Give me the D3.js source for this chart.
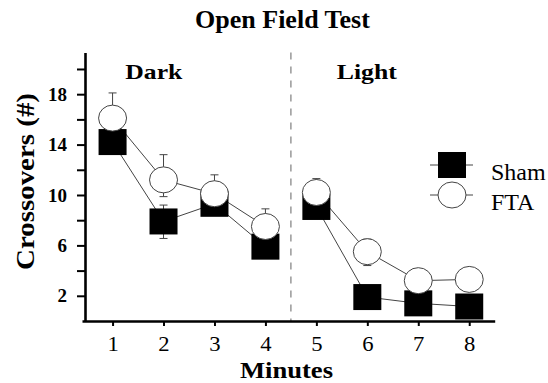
<!DOCTYPE html>
<html>
<head>
<meta charset="utf-8">
<script src="https://cdn.jsdelivr.net/npm/d3@7"></script>
<style>
  body { margin: 0; background: #fff; }
  text { font-family: "Liberation Serif", "Times New Roman", serif; fill: #000; }
  .axis path, .axis line { stroke: #000; }
</style>
</head>
<body>
<div id="chart"></div>
<script>
// values
const minutes = [1, 2, 3, 4, 5, 6, 7, 8];
const sham = [14.2, 7.9, 9.3, 5.9, 9.05, 1.9, 1.4, 1.15];
const shamErrUp = [0.8, 1.3, 0.6, 0.6, 0.6, 0.4, 0.3, 0.3];
const shamErrDown = [0.8, 1.35, 0.6, 0.6, 0.6, 0.4, 0.3, 0.3];
const fta = [16.1, 11.2, 10.1, 7.5, 10.2, 5.5, 3.2, 3.3];
const ftaErrUp = [2.0, 2.0, 1.5, 1.4, 1.1, 1.0, 0.4, 0.4];
const ftaErrDown = [2.0, 1.33, 1.5, 1.4, 1.1, 1.1, 0.4, 0.4];
const yTicks = [2, 4, 6, 8, 10, 12, 14, 16, 18, 20];
const yLabeled = [2, 6, 10, 14, 18];
const phases = [{name: 'Dark', at: 1.81, len: 57}, {name: 'Light', at: 5.99, len: 60}];
const phaseBoundary = 4.5;

const width = 548, height = 383;

const svg = d3.select('#chart')
  .append('svg')
  .attr('width', width)
  .attr('height', height);

const x = d3.scaleLinear().domain([0.4, 8.5]).range([82, 494.7]);
const y = d3.scaleLinear().domain([0, 21.3]).range([321, 52.6]);
const axisX = 85;

// title
svg.append('text')
  .attr('x', 282.5)
  .attr('y', 28)
  .attr('text-anchor', 'middle')
  .style('font-size', '26px')
  .style('font-weight', 'bold')
  .text('Open Field Test');

// dashed divider between dark and light phases
svg.append('line')
  .attr('x1', x(phaseBoundary)).attr('x2', x(phaseBoundary))
  .attr('y1', y(21.3)).attr('y2', y(0))
  .attr('stroke', '#888')
  .attr('stroke-width', 1.3)
  .attr('stroke-dasharray', '7,7');

// phase labels
svg.selectAll('.phase')
  .data(phases)
  .enter()
  .append('text')
  .attr('class', 'phase')
  .attr('x', d => x(d.at))
  .attr('y', 79)
  .attr('text-anchor', 'middle')
  .attr('textLength', d => d.len)
  .attr('lengthAdjust', 'spacingAndGlyphs')
  .style('font-size', '22px')
  .style('font-weight', 'bold')
  .text(d => d.name);

// y axis
const yAxis = svg.append('g')
  .attr('class', 'axis')
  .attr('transform', `translate(${axisX},0)`)
  .call(d3.axisLeft(y)
    .tickValues(yTicks)
    .tickSize(8)
    .tickSizeOuter(0)
    .tickPadding(10)
    .tickFormat(d => yLabeled.includes(d) ? d : ''));
yAxis.select('.domain').attr('stroke-width', 2.6);
yAxis.selectAll('.tick line').attr('stroke-width', 2);
yAxis.selectAll('.tick text')
  .style('font-size', '19px')
  .style('font-weight', 'bold');

// x axis
const xAxis = svg.append('g')
  .attr('class', 'axis')
  .attr('transform', `translate(0,${y(0)})`)
  .call(d3.axisBottom(x)
    .tickValues(minutes)
    .tickSize(5)
    .tickSizeOuter(0)
    .tickPadding(10.5));
xAxis.select('.domain').attr('stroke-width', 2.6);
xAxis.selectAll('.tick line').attr('stroke-width', 2);
xAxis.selectAll('.tick text')
  .style('font-size', '21px')
  .attr('transform', 'scale(1.08,1)');

// axis titles
svg.append('text')
  .attr('x', 286.5)
  .attr('y', 377.5)
  .attr('text-anchor', 'middle')
  .attr('textLength', 93)
  .attr('lengthAdjust', 'spacingAndGlyphs')
  .style('font-size', '24px')
  .style('font-weight', 'bold')
  .text('Minutes');

svg.append('text')
  .attr('transform', `translate(34,181.5) rotate(-90)`)
  .attr('text-anchor', 'middle')
  .attr('textLength', 177)
  .attr('lengthAdjust', 'spacingAndGlyphs')
  .style('font-size', '25px')
  .style('font-weight', 'bold')
  .text('Crossovers (#)');

// series
const series = [
  {name: 'Sham', values: sham, up: shamErrUp, down: shamErrDown, shape: 'square'},
  {name: 'FTA', values: fta, up: ftaErrUp, down: ftaErrDown, shape: 'circle'}
];

const line = d3.line()
  .x(d => x(d.m))
  .y(d => y(d.v));

const points = s => minutes.map((m, i) => ({m: m, v: s.values[i], up: s.up[i], down: s.down[i]}));

series.forEach(s => {
  const g = svg.append('g').attr('class', `series-${s.name}`);
  const pts = points(s);

  // error bars
  const eb = g.selectAll('.err')
    .data(pts)
    .enter()
    .append('g')
    .attr('class', 'err')
    .attr('stroke', '#444')
    .attr('stroke-width', 1);
  eb.append('line')
    .attr('x1', d => x(d.m)).attr('x2', d => x(d.m))
    .attr('y1', d => y(d.v - d.down)).attr('y2', d => y(d.v + d.up));
  eb.append('line')
    .attr('x1', d => x(d.m) - 4).attr('x2', d => x(d.m) + 4)
    .attr('y1', d => y(d.v + d.up)).attr('y2', d => y(d.v + d.up));
  eb.append('line')
    .attr('x1', d => x(d.m) - 4).attr('x2', d => x(d.m) + 4)
    .attr('y1', d => y(d.v - d.down)).attr('y2', d => y(d.v - d.down));

  // one line per phase, not joined across the divider
  const segments = [
    pts.filter(d => d.m < phaseBoundary),
    pts.filter(d => d.m > phaseBoundary)
  ];
  g.selectAll('.seg')
    .data(segments)
    .enter()
    .append('path')
    .attr('class', 'seg')
    .attr('fill', 'none')
    .attr('stroke', '#444')
    .attr('stroke-width', 1)
    .attr('d', line);
});

// markers: squares first, circles drawn over them
function drawMarker(sel, shape) {
  if (shape === 'square') {
    sel.append('rect')
      .attr('x', -14).attr('y', -13)
      .attr('width', 28).attr('height', 26)
      .attr('fill', '#000');
  } else {
    sel.append('ellipse')
      .attr('rx', 14).attr('ry', 13)
      .attr('fill', '#fff')
      .attr('stroke', '#444')
      .attr('stroke-width', 1);
  }
}

series.forEach(s => {
  svg.append('g')
    .selectAll('.marker')
    .data(points(s))
    .enter()
    .append('g')
    .attr('class', 'marker')
    .attr('transform', d => `translate(${x(d.m)},${y(d.v)})`)
    .each(function() { drawMarker(d3.select(this), s.shape); });
});

// legend
const legend = svg.append('g').attr('transform', 'translate(452,165)');
const legendItems = legend.selectAll('.item')
  .data(series)
  .enter()
  .append('g')
  .attr('class', 'item')
  .attr('transform', (d, i) => `translate(0,${i * 30})`);
legendItems.append('line')
  .attr('x1', -22).attr('x2', 21)
  .attr('stroke', '#444')
  .attr('stroke-width', 1);
legendItems.each(function(d) { drawMarker(d3.select(this), d.shape); });
legendItems.append('text')
  .attr('x', 39)
  .attr('y', 15)
  .style('font-size', '24px')
  .text(d => d.name);
</script>
</body>
</html>
